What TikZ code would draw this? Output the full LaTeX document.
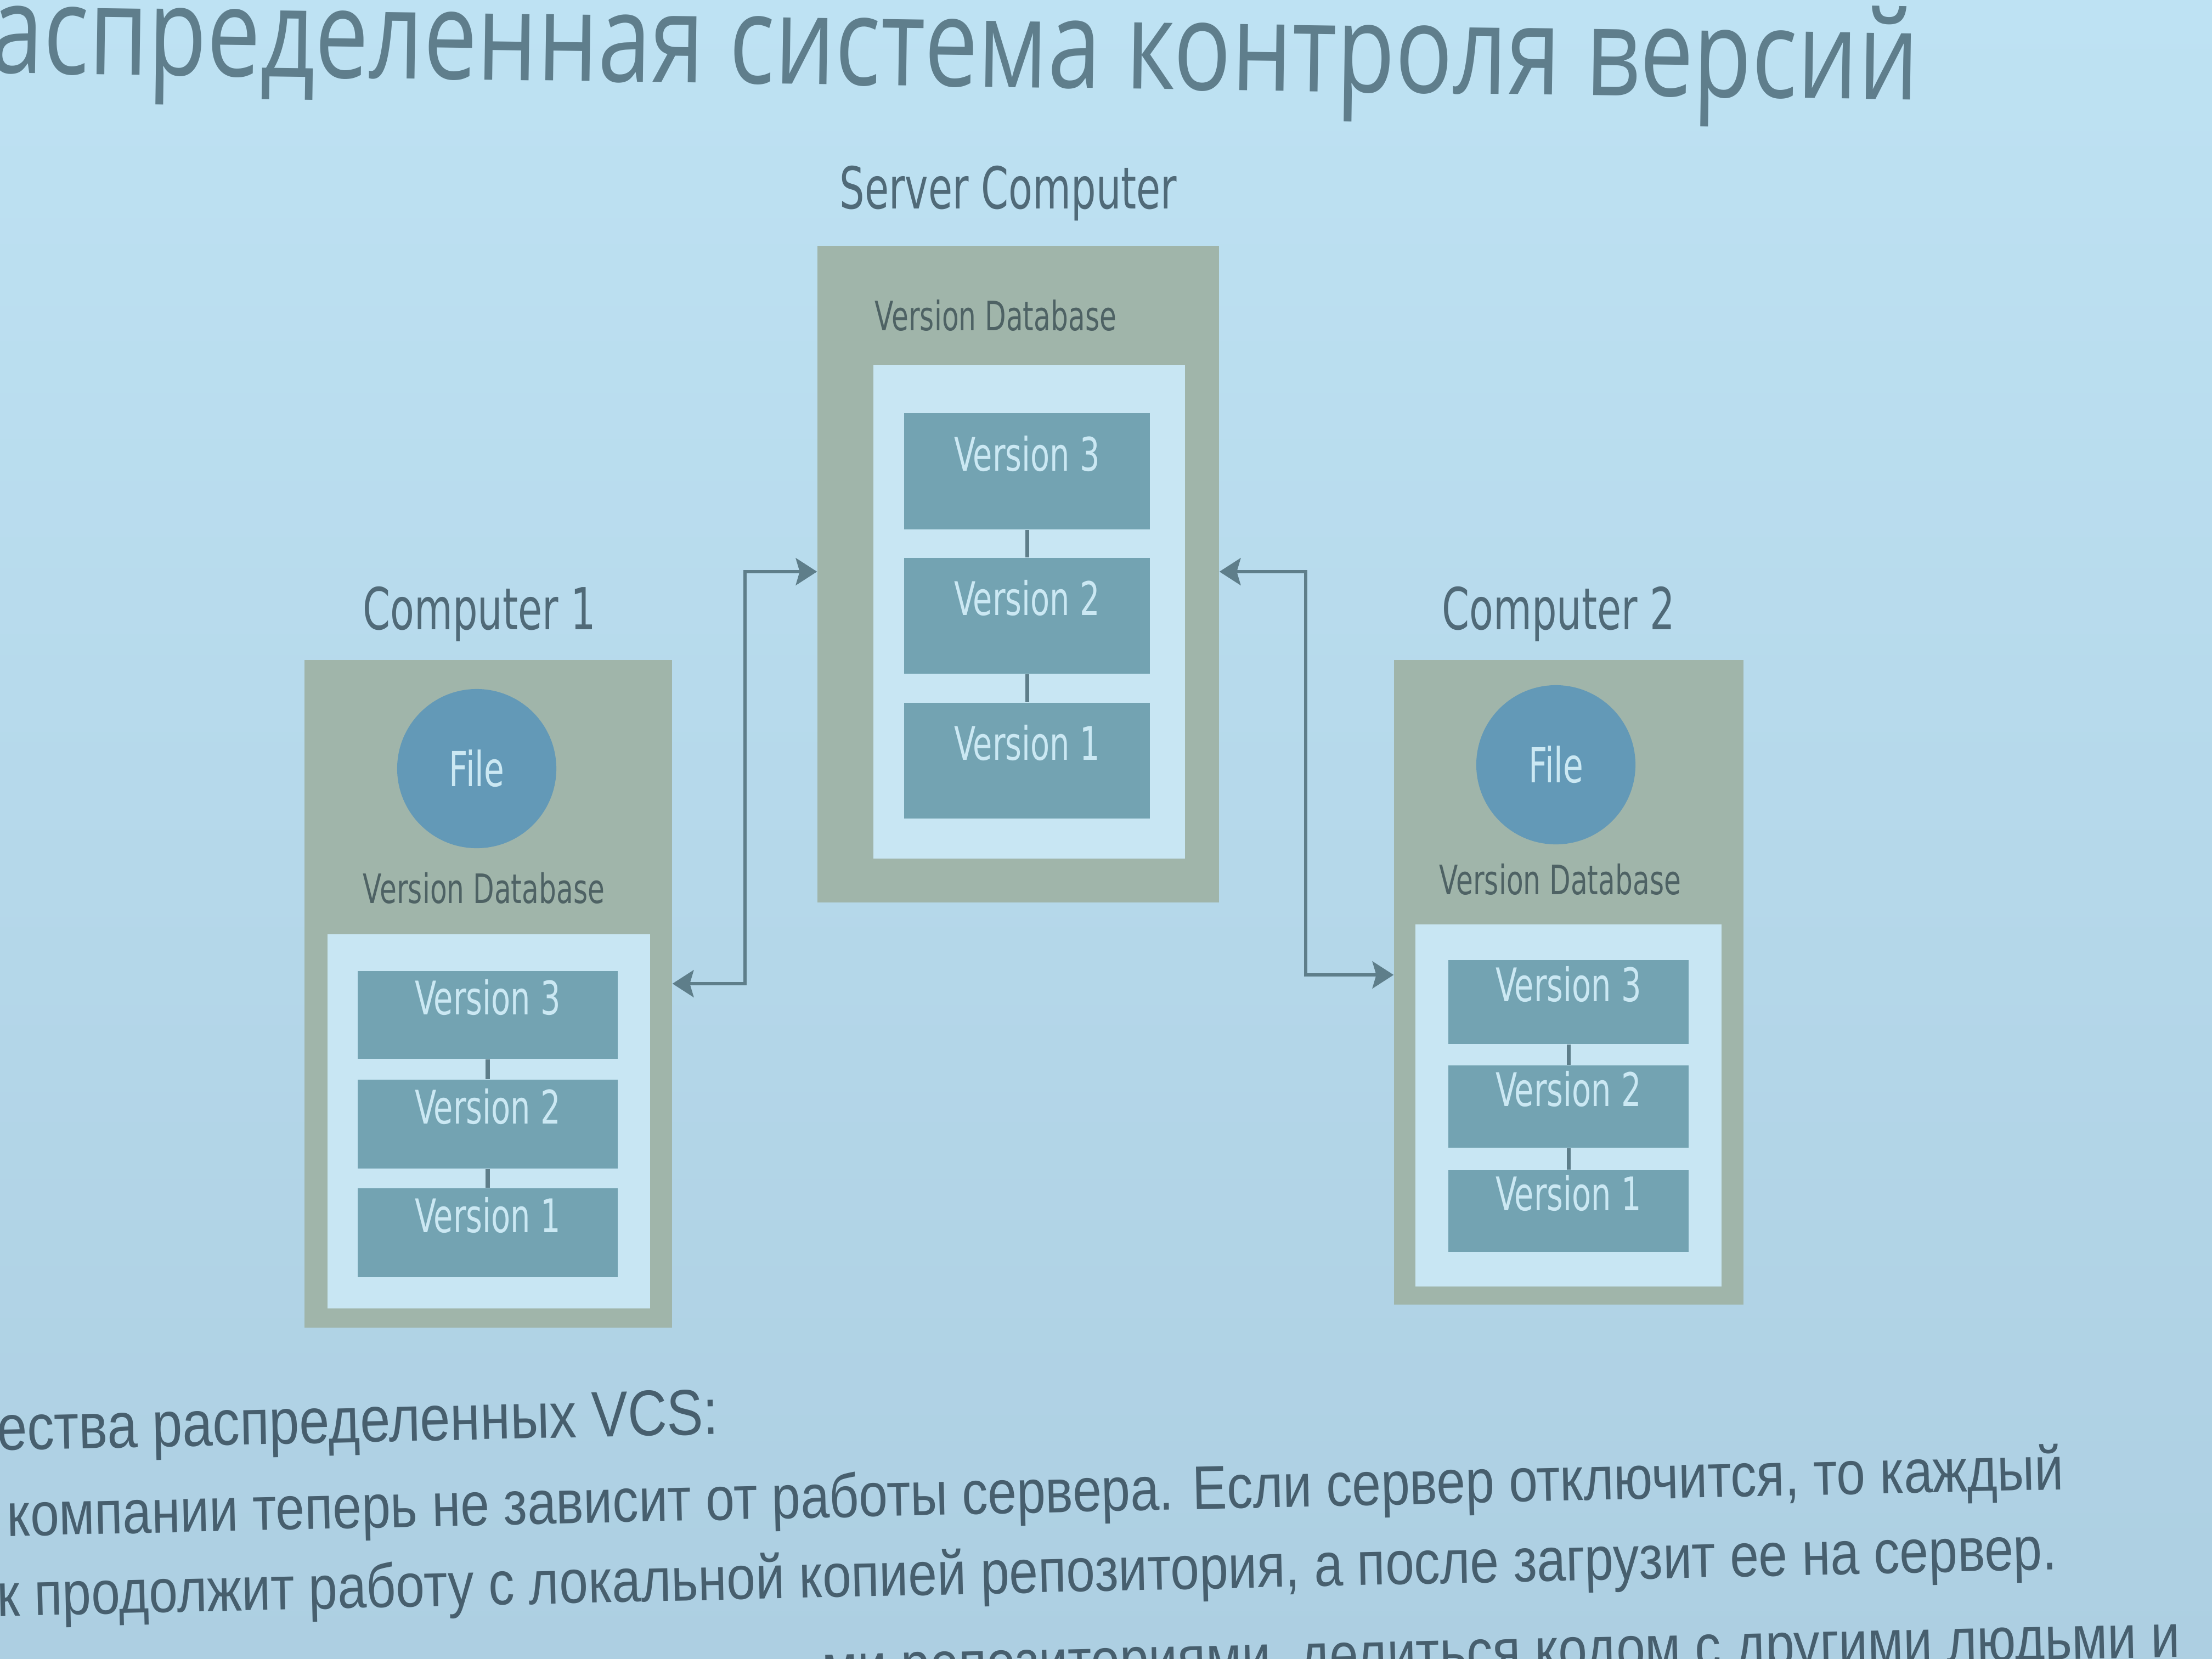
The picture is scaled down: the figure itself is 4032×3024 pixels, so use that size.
\documentclass[tikz,border=0pt]{standalone}
\usepackage{fontspec}
\usetikzlibrary{arrows.meta,fit}
\newfontfamily\diafont[FakeStretch=0.68]{DejaVu Sans}
\newfontfamily\titlefont[FakeStretch=0.774]{Open Sans}
\newfontfamily\bodyfont[FakeStretch=0.84]{Liberation Sans}
\definecolor{bgtop}{HTML}{BEE2F3}
\definecolor{bgbot}{HTML}{ADCFE2}
\definecolor{tanc}{HTML}{A0B5AA}
\definecolor{innerc}{HTML}{C8E6F3}
\definecolor{verc}{HTML}{73A3B2}
\definecolor{filec}{HTML}{6399B7}
\definecolor{lighttext}{HTML}{CBE8F3}
\definecolor{darktext}{HTML}{506A78}
\definecolor{dbtext}{HTML}{4E6264}
\definecolor{linec}{HTML}{5E7E8A}
\definecolor{titlec}{HTML}{5F7E8C}
\definecolor{bodyc}{HTML}{475F6E}
\begin{document}
\begin{tikzpicture}[x=0.01cm,y=-0.01cm,
  outerbox/.style={fill=tanc, draw=none, inner sep=0pt},
  innerbox/.style={fill=innerc, draw=none, inner sep=0pt},
  verbox/.style={fill=verc, draw=none, inner sep=0pt, text=lighttext,
    font=\diafont\fontsize{24}{28}\selectfont},
  filenode/.style={circle, fill=filec, draw=none, minimum size=2.9cm,
    text=lighttext, font=\diafont\fontsize{25}{30}\selectfont},
  hdr/.style={anchor=base, text=darktext, font=\diafont\fontsize{30}{36}\selectfont},
  dblabel/.style={anchor=base, text=dbtext, font=\diafont\fontsize{21}{25}\selectfont},
  link/.style={draw=linec, line width=2pt},
  conn/.style={draw=linec, line width=1.8pt,
    {Stealth[length=11pt,width=14pt,inset=2pt]}-{Stealth[length=11pt,width=14pt,inset=2pt]}},
  titletext/.style={text=titlec, inner sep=0pt, font=\titlefont\fontsize{64}{72}\selectfont},
  bodytext/.style={text=bodyc, inner sep=0pt, rotate=1.3, font=\bodyfont\fontsize{32}{38}\selectfont},
  headtext/.style={bodytext, font=\bodyfont\fontsize{33.5}{40}\selectfont}
]
\useasboundingbox (0,0) rectangle (4032,3024);
\clip (0,0) rectangle (4032,3024);
\shade[top color=bgtop, bottom color=bgbot] (0,0) rectangle (4032,3024);

% slide title
\node[titletext, anchor=base east, rotate=-0.8] (title) at (3497,182)
  {аспределенная система контроля версий};

% ---- server ----
\node[hdr] (srvlbl) at (1838,380) {Server Computer};
\node[outerbox, fit={(1490,448) (2222,1645)}] (srv) {};
\node[dblabel] (srvdb) at (1815,602) {Version Database};
\node[innerbox, fit={(1592,665) (2160,1565)}] (srvin) {};
\node[verbox, fit={(1648,753) (2096,965)}] (s3) {Version 3};
\node[verbox, fit={(1648,1017) (2096,1228)}] (s2) {Version 2};
\node[verbox, fit={(1648,1281) (2096,1492)}] (s1) {Version 1};
\draw[link] (s3.south) -- (s2.north);
\draw[link] (s2.south) -- (s1.north);

% ---- computer 1 ----
\node[hdr] (c1lbl) at (874,1147) {Computer 1};
\node[outerbox, fit={(555,1203) (1225,2420)}] (c1) {};
\node[filenode] (f1) at (869,1401) {File};
\node[dblabel] (c1db) at (882,1646) {Version Database};
\node[innerbox, fit={(597,1703) (1185,2385)}] (c1in) {};
\node[verbox, fit={(652,1770) (1126,1930)}] (a3) {Version 3};
\node[verbox, fit={(652,1968) (1126,2130)}] (a2) {Version 2};
\node[verbox, fit={(652,2166) (1126,2328)}] (a1) {Version 1};
\draw[link] (a3.south) -- (a2.north);
\draw[link] (a2.south) -- (a1.north);

% ---- computer 2 ----
\node[hdr] (c2lbl) at (2841,1147) {Computer 2};
\node[outerbox, fit={(2541,1203) (3178,2378)}] (c2) {};
\node[filenode] (f2) at (2836,1394) {File};
\node[dblabel] (c2db) at (2844,1630) {Version Database};
\node[innerbox, fit={(2580,1685) (3138,2345)}] (c2in) {};
\node[verbox, fit={(2640,1750) (3078,1903)}] (b3) {Version 3};
\node[verbox, fit={(2640,1942) (3078,2092)}] (b2) {Version 2};
\node[verbox, fit={(2640,2133) (3078,2282)}] (b1) {Version 1};
\draw[link] (b3.south) -- (b2.north);
\draw[link] (b2.south) -- (b1.north);

% ---- two-way connectors ----
\coordinate (lbot) at (1358,1793);
\coordinate (ltop) at (1358,1042);
\coordinate (rtop) at (2380,1042);
\coordinate (rbot) at (2380,1777);
\draw[conn] (c1.east |- lbot) -- (lbot) -- (ltop) -- (srv.west |- ltop);
\draw[conn] (srv.east |- rtop) -- (rtop) -- (rbot) -- (c2.west |- rbot);

% ---- text below the diagram ----
\node[headtext, anchor=base east] (t1) at (1311,2614) {ества распределенных VCS:};
\node[bodytext, anchor=base west] (t2) at (13,2800)
  {компании теперь не зависит от работы сервера. Если сервер отключится, то каждый};
\node[bodytext, anchor=base west] (t3) at (-5,2946)
  {к продолжит работу с локальной копией репозитория, а после загрузит ее на сервер.};
\node[bodytext, anchor=base east] (t4) at (3975,3020)
  {ми репозиториями, делиться кодом с другими людьми и};
\end{tikzpicture}
\end{document}
